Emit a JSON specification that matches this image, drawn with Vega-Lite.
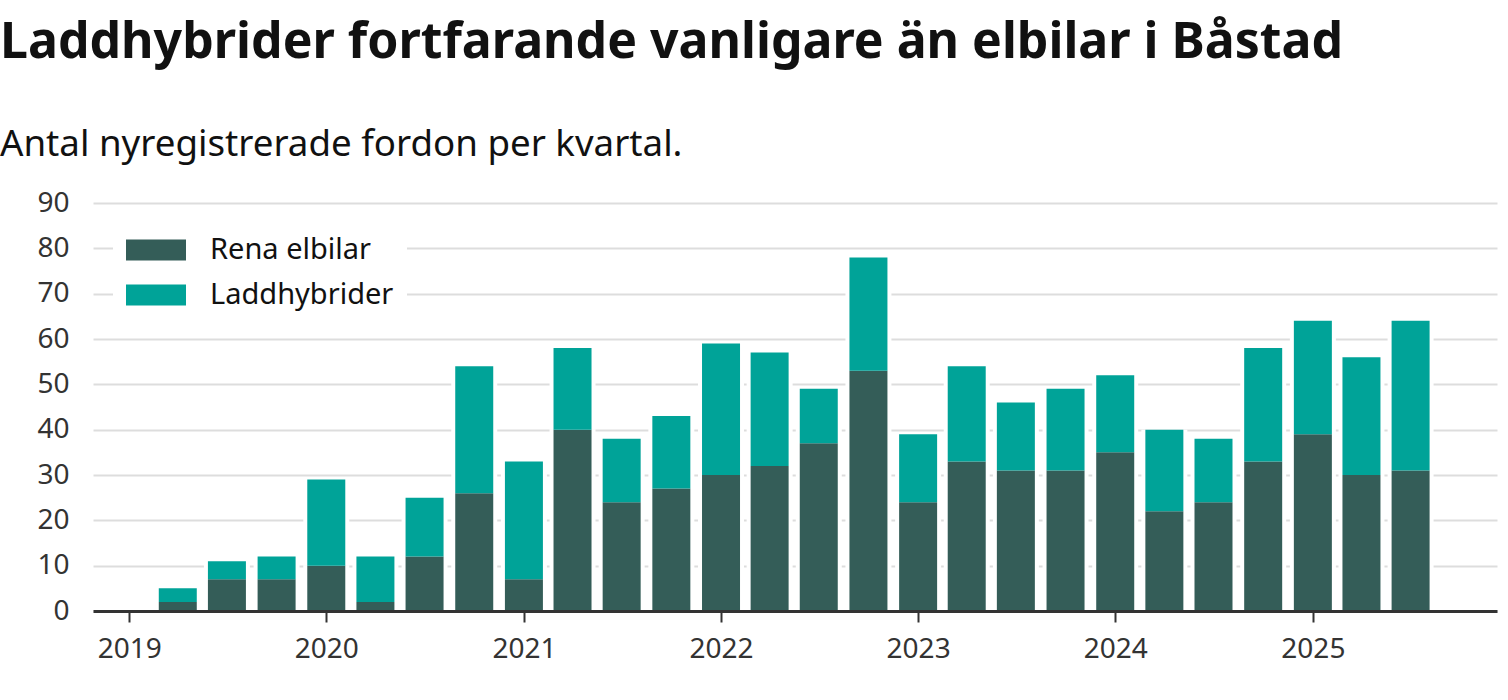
{
  "$schema": "https://vega.github.io/schema/vega-lite/v6.json",
  "width": 1404,
  "height": 408,
  "autosize": {"type": "none"},
  "padding": {"left": 93, "top": 203, "right": 11, "bottom": 89},
  "background": "white",
  "config": {
    "font": "Noto Sans",
    "view": {"stroke": null}
  },
  "title": {
    "text": "Laddhybrider fortfarande vanligare än elbilar i Båstad",
    "subtitle": "Antal nyregistrerade fordon per kvartal.",
    "anchor": "start",
    "frame": "group",
    "dx": -93,
    "offset": 25,
    "fontSize": 50,
    "fontWeight": "bold",
    "color": "#111111",
    "subtitleFontSize": 36.7,
    "subtitleColor": "#111111",
    "subtitlePadding": 59
  },
  "data": {
    "values": [
      {"kvartal": "2019-04-01", "typ": "Rena elbilar", "antal": 2},
      {"kvartal": "2019-04-01", "typ": "Laddhybrider", "antal": 3},
      {"kvartal": "2019-07-01", "typ": "Rena elbilar", "antal": 7},
      {"kvartal": "2019-07-01", "typ": "Laddhybrider", "antal": 4},
      {"kvartal": "2019-10-01", "typ": "Rena elbilar", "antal": 7},
      {"kvartal": "2019-10-01", "typ": "Laddhybrider", "antal": 5},
      {"kvartal": "2020-01-01", "typ": "Rena elbilar", "antal": 10},
      {"kvartal": "2020-01-01", "typ": "Laddhybrider", "antal": 19},
      {"kvartal": "2020-04-01", "typ": "Rena elbilar", "antal": 2},
      {"kvartal": "2020-04-01", "typ": "Laddhybrider", "antal": 10},
      {"kvartal": "2020-07-01", "typ": "Rena elbilar", "antal": 12},
      {"kvartal": "2020-07-01", "typ": "Laddhybrider", "antal": 13},
      {"kvartal": "2020-10-01", "typ": "Rena elbilar", "antal": 26},
      {"kvartal": "2020-10-01", "typ": "Laddhybrider", "antal": 28},
      {"kvartal": "2021-01-01", "typ": "Rena elbilar", "antal": 7},
      {"kvartal": "2021-01-01", "typ": "Laddhybrider", "antal": 26},
      {"kvartal": "2021-04-01", "typ": "Rena elbilar", "antal": 40},
      {"kvartal": "2021-04-01", "typ": "Laddhybrider", "antal": 18},
      {"kvartal": "2021-07-01", "typ": "Rena elbilar", "antal": 24},
      {"kvartal": "2021-07-01", "typ": "Laddhybrider", "antal": 14},
      {"kvartal": "2021-10-01", "typ": "Rena elbilar", "antal": 27},
      {"kvartal": "2021-10-01", "typ": "Laddhybrider", "antal": 16},
      {"kvartal": "2022-01-01", "typ": "Rena elbilar", "antal": 30},
      {"kvartal": "2022-01-01", "typ": "Laddhybrider", "antal": 29},
      {"kvartal": "2022-04-01", "typ": "Rena elbilar", "antal": 32},
      {"kvartal": "2022-04-01", "typ": "Laddhybrider", "antal": 25},
      {"kvartal": "2022-07-01", "typ": "Rena elbilar", "antal": 37},
      {"kvartal": "2022-07-01", "typ": "Laddhybrider", "antal": 12},
      {"kvartal": "2022-10-01", "typ": "Rena elbilar", "antal": 53},
      {"kvartal": "2022-10-01", "typ": "Laddhybrider", "antal": 25},
      {"kvartal": "2023-01-01", "typ": "Rena elbilar", "antal": 24},
      {"kvartal": "2023-01-01", "typ": "Laddhybrider", "antal": 15},
      {"kvartal": "2023-04-01", "typ": "Rena elbilar", "antal": 33},
      {"kvartal": "2023-04-01", "typ": "Laddhybrider", "antal": 21},
      {"kvartal": "2023-07-01", "typ": "Rena elbilar", "antal": 31},
      {"kvartal": "2023-07-01", "typ": "Laddhybrider", "antal": 15},
      {"kvartal": "2023-10-01", "typ": "Rena elbilar", "antal": 31},
      {"kvartal": "2023-10-01", "typ": "Laddhybrider", "antal": 18},
      {"kvartal": "2024-01-01", "typ": "Rena elbilar", "antal": 35},
      {"kvartal": "2024-01-01", "typ": "Laddhybrider", "antal": 17},
      {"kvartal": "2024-04-01", "typ": "Rena elbilar", "antal": 22},
      {"kvartal": "2024-04-01", "typ": "Laddhybrider", "antal": 18},
      {"kvartal": "2024-07-01", "typ": "Rena elbilar", "antal": 24},
      {"kvartal": "2024-07-01", "typ": "Laddhybrider", "antal": 14},
      {"kvartal": "2024-10-01", "typ": "Rena elbilar", "antal": 33},
      {"kvartal": "2024-10-01", "typ": "Laddhybrider", "antal": 25},
      {"kvartal": "2025-01-01", "typ": "Rena elbilar", "antal": 39},
      {"kvartal": "2025-01-01", "typ": "Laddhybrider", "antal": 25},
      {"kvartal": "2025-04-01", "typ": "Rena elbilar", "antal": 30},
      {"kvartal": "2025-04-01", "typ": "Laddhybrider", "antal": 26},
      {"kvartal": "2025-07-01", "typ": "Rena elbilar", "antal": 31},
      {"kvartal": "2025-07-01", "typ": "Laddhybrider", "antal": 33}
    ]
  },
  "encoding": {
    "x": {
      "field": "kvartal",
      "type": "temporal",
      "scale": {
        "type": "utc",
        "padding": 0,
        "domain": [
          {"year": 2018, "month": 10, "date": 26, "utc": true},
          {"year": 2025, "month": 12, "date": 8, "utc": true}
        ]
      },
      "axis": {
        "title": null,
        "format": "%Y",
        "tickCount": {"interval": "year", "step": 1},
        "grid": false,
        "zindex": 1,
        "domainColor": "#333333",
        "domainWidth": 3,
        "tickColor": "#333333",
        "tickWidth": 2,
        "tickSize": 11,
        "labelFontSize": 28,
        "labelColor": "#333333",
        "labelPadding": 13
      }
    },
    "y": {
      "field": "antal",
      "type": "quantitative",
      "stack": "zero",
      "scale": {"domain": [0, 90]},
      "axis": {
        "title": null,
        "values": [0, 10, 20, 30, 40, 50, 60, 70, 80, 90],
        "domain": false,
        "ticks": false,
        "gridColor": "#dddddd",
        "gridWidth": 2,
        "labelFontSize": 28,
        "labelColor": "#333333",
        "labelPadding": 24
      }
    }
  },
  "layer": [
    {
      "mark": {"type": "bar", "size": 46, "color": "white"},
      "encoding": {
        "detail": {"field": "typ"}
      }
    },
    {
      "mark": {"type": "bar", "size": 38},
      "encoding": {
        "color": {
          "field": "typ",
          "type": "nominal",
          "sort": ["Rena elbilar", "Laddhybrider"],
          "scale": {
            "domain": ["Rena elbilar", "Laddhybrider"],
            "range": ["#345d58", "#00a398"]
          },
          "legend": {
            "title": null,
            "orient": "none",
            "legendX": 20,
            "legendY": 4,
            "fillColor": "white",
            "padding": 13,
            "rowPadding": 0,
            "symbolType": "M-1,-0.35H1V0.35H-1Z",
            "symbolSize": 3600,
            "symbolStrokeWidth": 0,
            "symbolOpacity": 1,
            "labelFontSize": 29,
            "labelLimit": 400,
            "labelColor": "#111111",
            "labelOffset": 24
          }
        }
      }
    }
  ]
}
